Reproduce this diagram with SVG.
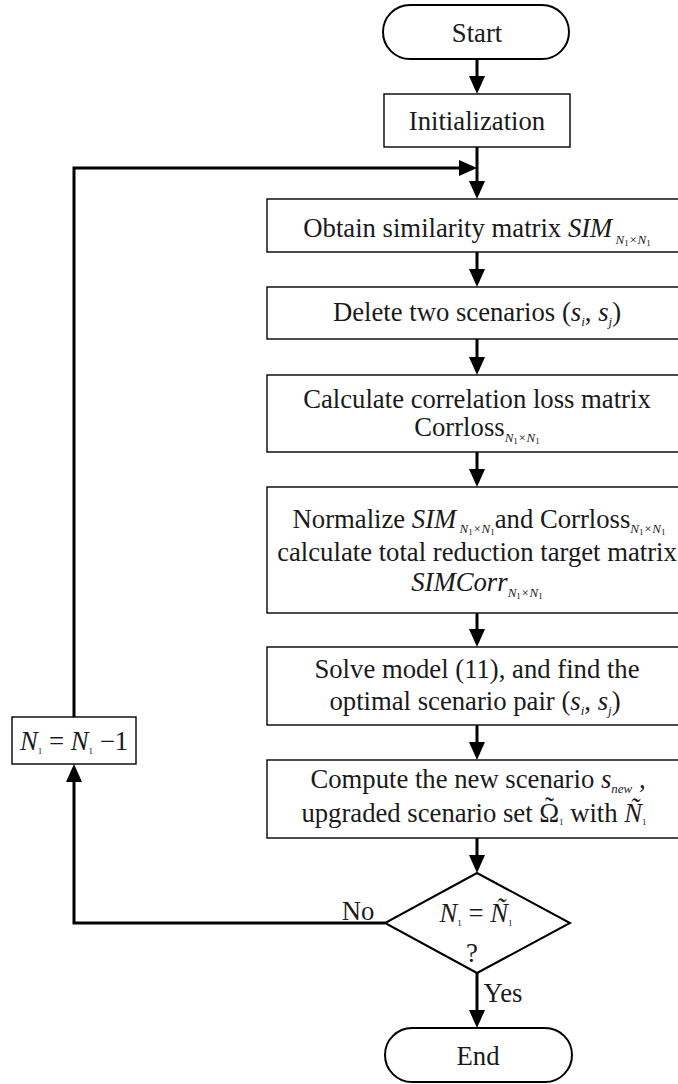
<svg xmlns="http://www.w3.org/2000/svg" width="678" height="1084" viewBox="0 0 678 1084">
<defs>
<marker id="ah" markerUnits="userSpaceOnUse" markerWidth="20" markerHeight="18" refX="0" refY="8" orient="auto" viewBox="0 0 20 16" overflow="visible">
<path d="M0,0 L18,8 L0,16 z" fill="#000"/>
</marker>
</defs>
<style>
.t{font-family:"Liberation Serif","Times New Roman",serif;font-size:26.7px;fill:#1a1a1a;text-anchor:middle}
.i{font-style:italic}
.s{font-size:13px;font-style:italic}
.s1{font-size:9px;font-style:normal}
.box{fill:#fff;stroke:#000;stroke-width:1.4}
.term{fill:#fff;stroke:#000;stroke-width:2}
.con{fill:none;stroke:#000;stroke-width:3}
</style>
<rect width="678" height="1084" fill="#fff"/>
<g id="connectors">
<path class="con" d="M477,59 V76" marker-end="url(#ah)"/>
<path class="con" d="M477,147 V181" marker-end="url(#ah)"/>
<path class="con" d="M477,252 V269" marker-end="url(#ah)"/>
<path class="con" d="M477,339 V357" marker-end="url(#ah)"/>
<path class="con" d="M477,452 V469" marker-end="url(#ah)"/>
<path class="con" d="M477,613 V629" marker-end="url(#ah)"/>
<path class="con" d="M477,725 V742" marker-end="url(#ah)"/>
<path class="con" d="M477,838 V855" marker-end="url(#ah)"/>
<path class="con" d="M477,973 V1010" marker-end="url(#ah)"/>
<path class="con" d="M385,923 H74 V782" marker-end="url(#ah)"/>
<path class="con" d="M74,717 V168 H459" marker-end="url(#ah)"/>
</g>
<g id="start">
<rect class="term" x="383" y="5" width="186" height="54" rx="27"/>
<text class="t" x="477" y="42">Start</text>
</g>
<g id="init">
<rect class="box" x="384" y="94" width="186" height="53"/>
<text class="t" x="477" y="130">Initialization</text>
</g>
<g id="sim">
<rect class="box" x="267" y="199" width="420" height="53"/>
<text class="t" x="477" y="237">Obtain similarity matrix <tspan class="i">SIM</tspan><tspan class="s" dy="7"> N</tspan><tspan class="s1" dy="2">1</tspan><tspan class="s" dy="-2">×N</tspan><tspan class="s1" dy="2">1</tspan><tspan dy="-9"></tspan></text>
</g>
<g id="delete">
<rect class="box" x="267" y="287" width="420" height="52"/>
<text class="t" x="477" y="321">Delete two scenarios (<tspan class="i">s</tspan><tspan class="s" dy="5">i</tspan><tspan dy="-5">, </tspan><tspan class="i">s</tspan><tspan class="s" dy="5">j</tspan><tspan dy="-5">)</tspan></text>
</g>
<g id="corrloss">
<rect class="box" x="267" y="375" width="420" height="77"/>
<text class="t" x="477" y="408">Calculate correlation loss matrix</text>
<text class="t" x="477" y="436">Corrloss<tspan class="s" dy="6">N</tspan><tspan class="s1" dy="2">1</tspan><tspan class="s" dy="-2">×N</tspan><tspan class="s1" dy="2">1</tspan><tspan dy="-8"></tspan></text>
</g>
<g id="normalize">
<rect class="box" x="267" y="487" width="420" height="126"/>
<text class="t" x="479" y="528">Normalize <tspan class="i">SIM</tspan><tspan class="s" dy="5"> N</tspan><tspan class="s1" dy="2">1</tspan><tspan class="s" dy="-2">×N</tspan><tspan class="s1" dy="2">1</tspan><tspan dy="-7">and Corrloss</tspan><tspan class="s" dy="5">N</tspan><tspan class="s1" dy="2">1</tspan><tspan class="s" dy="-2">×N</tspan><tspan class="s1" dy="2">1</tspan><tspan dy="-7"></tspan></text>
<text class="t" x="477" y="561">calculate total reduction target matrix</text>
<text class="t" x="477" y="591"><tspan class="i">SIMCorr</tspan><tspan class="s" dy="6">N</tspan><tspan class="s1" dy="2">1</tspan><tspan class="s" dy="-2">×N</tspan><tspan class="s1" dy="2">1</tspan><tspan dy="-8"></tspan></text>
</g>
<g id="solve">
<rect class="box" x="267" y="647" width="420" height="78"/>
<text class="t" x="477" y="678">Solve model (11), and find the</text>
<text class="t" x="475" y="710">optimal scenario pair (<tspan class="i">s</tspan><tspan class="s" dy="5">i</tspan><tspan dy="-5">, </tspan><tspan class="i">s</tspan><tspan class="s" dy="5">j</tspan><tspan dy="-5">)</tspan></text>
</g>
<g id="compute">
<rect class="box" x="267" y="760" width="420" height="78"/>
<text class="t" x="478" y="788">Compute the new scenario <tspan class="i">s</tspan><tspan class="s" dy="5">new</tspan><tspan dy="-5"> ,</tspan></text>
<text class="t" x="474" y="822">upgraded scenario set Ω<tspan dx="-14" dy="-6">˜</tspan><tspan class="s1" dx="5" dy="9">1</tspan><tspan dy="-3"> with </tspan><tspan class="i">Ñ</tspan><tspan class="s1" dy="3">1</tspan><tspan dy="-3"></tspan></text>
</g>
<g id="decision">
<polygon points="477,873 570,923 477,973 385,923" fill="#fff" stroke="#000" stroke-width="2"/>
<text class="t" x="476" y="922"><tspan class="i">N</tspan><tspan class="s1" dy="4">1</tspan><tspan dy="-4"> = </tspan><tspan class="i">Ñ</tspan><tspan class="s1" dy="4">1</tspan><tspan dy="-4"></tspan></text>
<text class="t" x="472" y="962">?</text>
</g>
<g id="labels">
<text class="t" x="358" y="920">No</text>
<text class="t" x="503" y="1002">Yes</text>
</g>
<g id="decrement">
<rect class="box" x="12" y="717" width="124" height="47"/>
<text class="t" x="74" y="750"><tspan class="i">N</tspan><tspan class="s1" dy="4">1</tspan><tspan dy="-4"> = </tspan><tspan class="i">N</tspan><tspan class="s1" dy="4">1</tspan><tspan dy="-4"> −1</tspan></text>
</g>
<g id="end">
<rect class="term" x="385" y="1028" width="187" height="54" rx="27"/>
<text class="t" x="478" y="1065">End</text>
</g>
</svg>
